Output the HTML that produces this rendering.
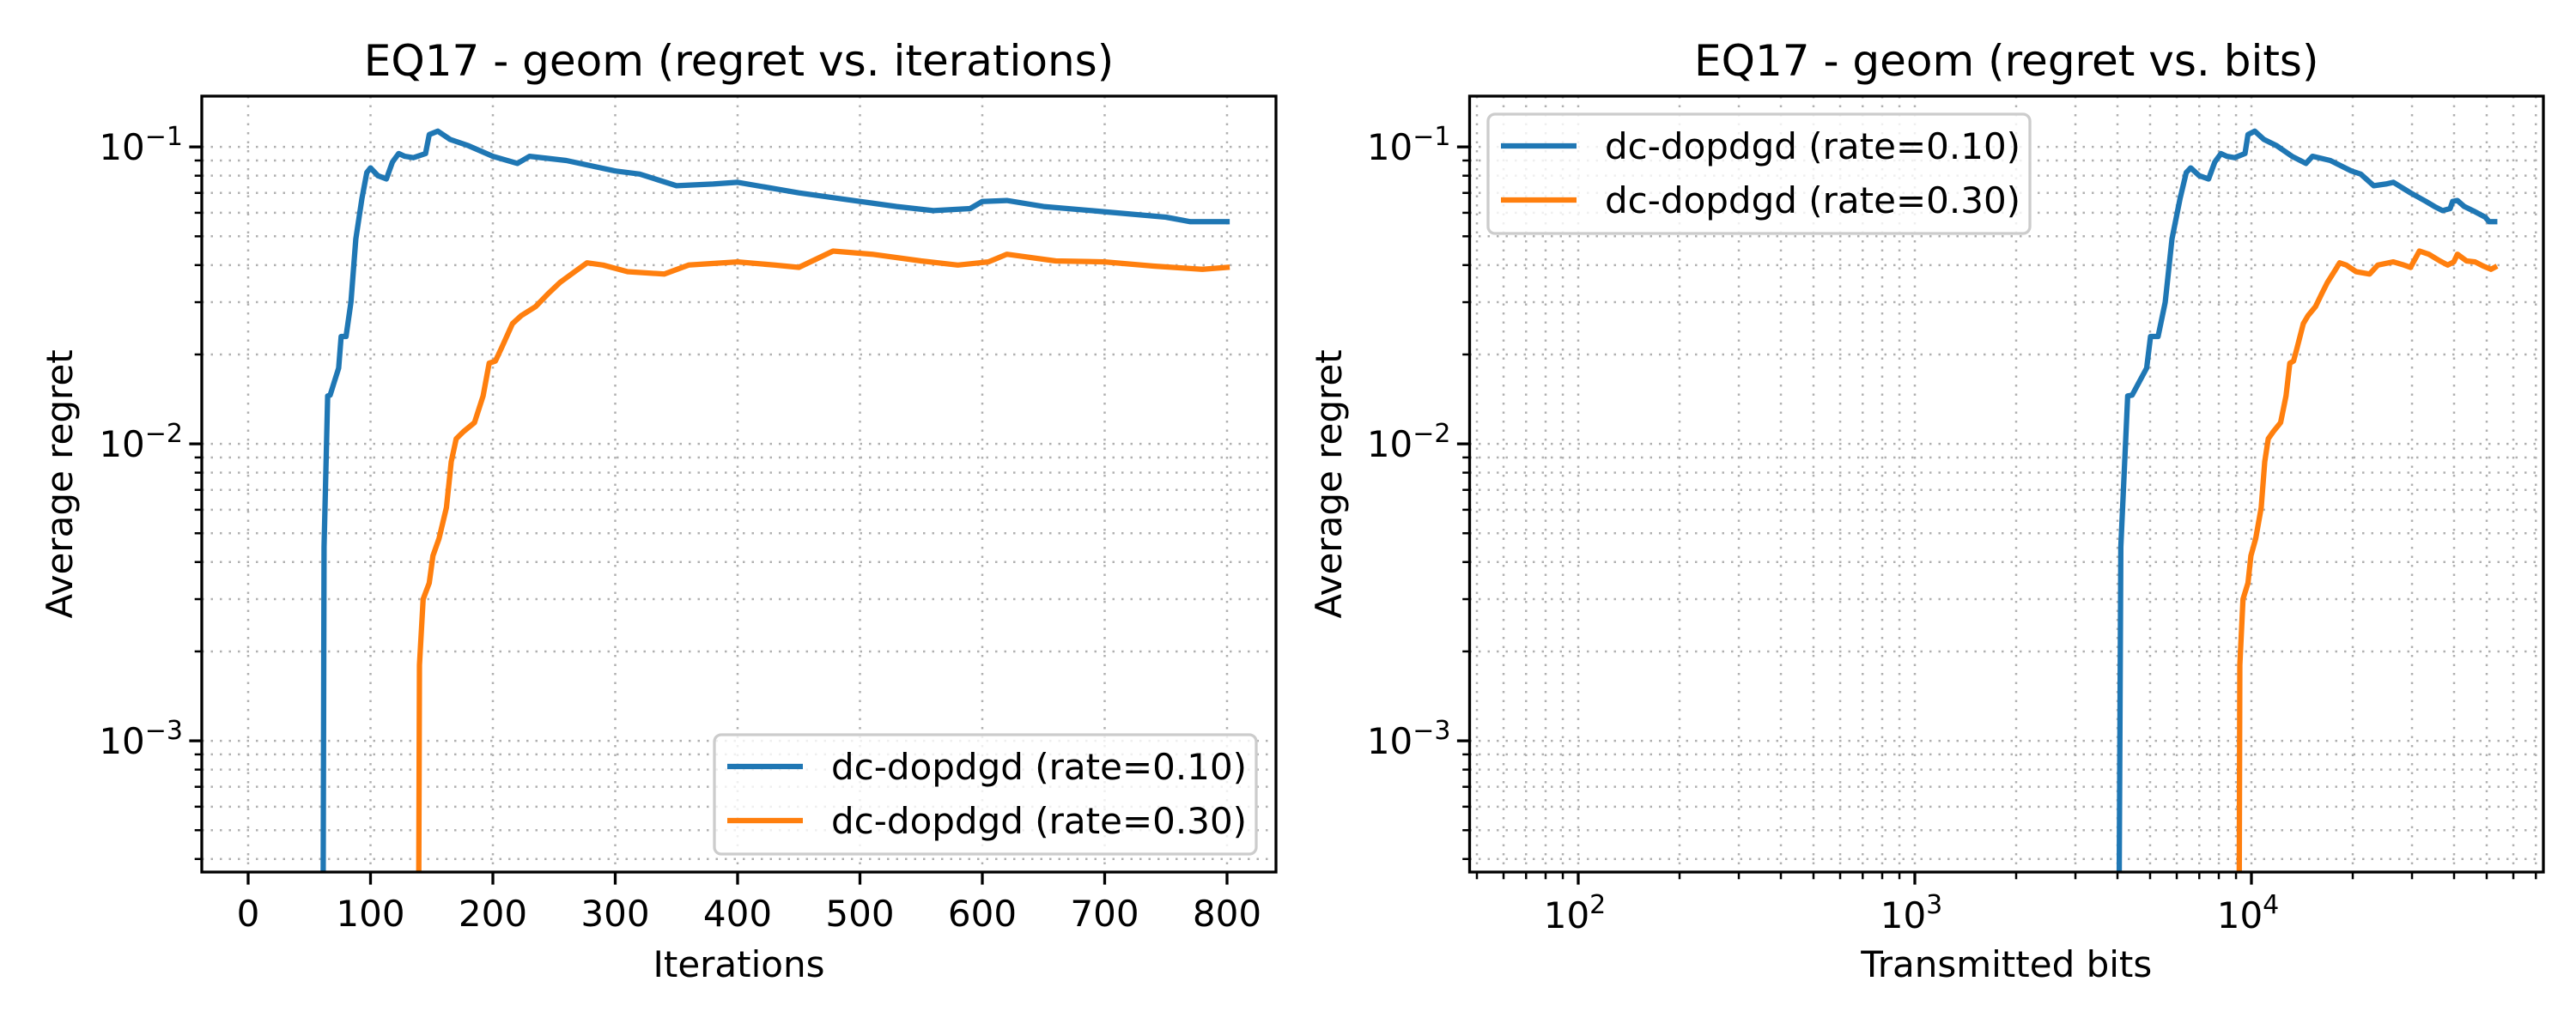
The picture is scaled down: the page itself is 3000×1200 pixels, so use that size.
<!DOCTYPE html>
<html><head><meta charset="utf-8"><style>
html,body{margin:0;padding:0;background:#fff;overflow:hidden;}
svg{display:block;font-family:"DejaVu Sans","Liberation Sans",sans-serif;}
</style></head><body>
<svg id="fig" width="3000" height="1200" viewBox="0 0 3000 1200" xmlns="http://www.w3.org/2000/svg"></svg>
<script>
// ---- data ----
const blueIter = [61,62,65,67,70,74,76,80,84,88,93,97,100,106,113,118,123,128,135,145,148,155,165,180,200,220,230,260,300,320,350,380,400,450,500,530,560,590,600,620,650,700,750,770,800];
const blueRegret = [0.0001,0.0045,0.0145,0.0146,0.016,0.018,0.023,0.023,0.03,0.049,0.067,0.082,0.085,0.08,0.078,0.089,0.095,0.093,0.092,0.095,0.11,0.113,0.106,0.101,0.093,0.088,0.093,0.090,0.083,0.081,0.074,0.075,0.076,0.070,0.0655,0.063,0.061,0.062,0.0655,0.066,0.063,0.0605,0.058,0.056,0.056];
const orangeIter = [139,140,143,148,151,156,162,166,170,176,185,192,197,202,207,216,223,235,245,255,268,277,290,310,340,360,400,430,450,478,510,550,580,605,620,660,700,740,780,800];
const orangeRegret = [0.0001,0.0018,0.003,0.0034,0.0042,0.0048,0.0061,0.0087,0.0104,0.011,0.0118,0.0145,0.0187,0.019,0.021,0.0254,0.027,0.029,0.032,0.035,0.0383,0.0407,0.040,0.038,0.0373,0.040,0.041,0.040,0.0393,0.0446,0.0435,0.0413,0.040,0.041,0.0435,0.0413,0.041,0.0397,0.0387,0.0393];
const bitsPerIter = 66;
const xTicksLin = [0,100,200,300,400,500,600,700,800];
const yTickExp = [-1,-2,-3];
const xTickExpLog = [2,3,4];
const seriesLabels = ["dc-dopdgd (rate=0.10)","dc-dopdgd (rate=0.30)"];
const colors = ["#1f77b4","#ff7f0e"];

const NS="http://www.w3.org/2000/svg";
const svg=document.getElementById('fig');
function el(tag,attrs,parent){const e=document.createElementNS(NS,tag);for(const k in attrs)e.setAttribute(k,attrs[k]);(parent||svg).appendChild(e);return e;}

const yTop=112,yBot=1016;
const yMinL=-3.442, yMaxL=-0.829;
function yScale(v){const l=Math.log10(v);return yBot-(l-yMinL)/(yMaxL-yMinL)*(yBot-yTop);}

function supLabel(g,x,y,exp,anchor){
  const t=el('text',{x:x,y:y,'font-size':42,'text-anchor':anchor,fill:'#000'},g);
  t.appendChild(document.createTextNode('10'));
  const ts=el('tspan',{dy:-17,'font-size':30},t);
  ts.textContent=(exp<0?'\u2212':'')+Math.abs(exp);
  return t;
}

function panel(opts){
  const g=el('g',{});
  
  
  const L=opts.left,R=opts.right;
  const clipId='clip'+opts.name;
  const cp=el('clipPath',{id:clipId},g);el('rect',{x:L,y:yTop,width:R-L,height:yBot-yTop},cp);
  const grid=el('g',{stroke:'#b0b0b0','stroke-width':2.5,'stroke-dasharray':'2.5,8','clip-path':'url(#'+clipId+')'},g);
  
  
  const ticks=el('g',{stroke:'#000','stroke-width':3.3},g);
  for(let e=-4;e<=-1;e++){for(let m=1;m<10;m++){const v=m*Math.pow(10,e);const y=yScale(v);if(y<yTop-1||y>yBot+1)continue;
    el('line',{x1:L,x2:R,y1:y,y2:y},grid);
    el('line',{x1:L,x2:L-(m===1?14.6:8.3),y1:y,y2:y,'stroke-width':m===1?3.3:2.5},ticks);}}
  yTickExp.forEach(e=>{const t=supLabel(g,L-22,yScale(Math.pow(10,e))+15,e,'end');
    });
  opts.xgrid(grid,ticks,g);
  const lines=el('g',{'clip-path':'url(#'+clipId+')',fill:'none','stroke-width':6.25,'stroke-linejoin':'round','stroke-linecap':'square'},g);
  opts.series.forEach((s,i)=>{
    const d=s.x.map((xv,j)=>(j?'L':'M')+opts.xs(xv).toFixed(1)+','+yScale(s.y[j]).toFixed(1)).join('');
    const p=el('path',{d:d,stroke:colors[i]},lines);
    
    
  });
  el('rect',{x:L,y:yTop,width:R-L,height:yBot-yTop,fill:'none',stroke:'#000','stroke-width':3.3},g);
  const title=el('text',{x:(L+R)/2,y:88,'font-size':50,'text-anchor':'middle'},g);title.textContent=opts.title;
  
  const xl=el('text',{x:(L+R)/2,y:1138,'font-size':42,'text-anchor':'middle'},g);xl.textContent=opts.xlabel;
  
  const yl=el('text',{x:0,y:0,'font-size':42,'text-anchor':'middle',transform:'translate('+(opts.ylx)+','+((yTop+yBot)/2)+') rotate(-90)'},g);yl.textContent='Average regret';
  
  const lg=el('g',{},g);
  const lx=opts.legX,ly=opts.legY;
  el('rect',{x:lx,y:ly,width:631,height:139,rx:8,fill:'#fff','fill-opacity':0.8,stroke:'#cccccc','stroke-width':3.3},lg);
  seriesLabels.forEach((lab,i)=>{const yy=ly+37+i*63;
    const ent=el('g',{},lg);
    el('line',{x1:lx+15,x2:lx+103,y1:yy,y2:yy,stroke:colors[i],'stroke-width':6.25},ent);
    const t=el('text',{x:lx+136,y:yy+15,'font-size':42},ent);t.textContent=lab;});
}

const L1=235,R1=1486;
const xs1=v=>289+(v/800)*(1429-289);
panel({name:'iterations-panel',left:L1,right:R1,title:'EQ17 - geom (regret vs. iterations)',xlabel:'Iterations',ylx:84,
  xs:xs1,legX:832,legY:856,
  series:[{x:blueIter,y:blueRegret},{x:orangeIter,y:orangeRegret}],
  xgrid:(grid,ticks,g)=>{xTicksLin.forEach(v=>{const x=xs1(v);el('line',{x1:x,x2:x,y1:yTop,y2:yBot},grid);
    el('line',{x1:x,x2:x,y1:yBot,y2:yBot+14.6},ticks);
    const t=el('text',{x:x,y:1079,'font-size':42,'text-anchor':'middle'},g);t.textContent=v;
    });}
});

const L2=1711.5,R2=2962;
const xs2=v=>1838+(Math.log10(v)-2)*392;
panel({name:'bits-panel',left:L2,right:R2,title:'EQ17 - geom (regret vs. bits)',xlabel:'Transmitted bits',ylx:1562,
  xs:xs2,legX:1733,legY:133,
  series:[{x:blueIter.map(v=>v*bitsPerIter),y:blueRegret},{x:orangeIter.map(v=>v*bitsPerIter),y:orangeRegret}],
  xgrid:(grid,ticks,g)=>{for(let e=1;e<=4;e++)for(let m=1;m<10;m++){const v=m*Math.pow(10,e);const x=xs2(v);if(x<L2||x>R2)continue;
      el('line',{x1:x,x2:x,y1:yTop,y2:yBot},grid);
      el('line',{x1:x,x2:x,y1:yBot,y2:yBot+(m===1?14.6:8.3),'stroke-width':m===1?3.3:2.5},ticks);}
    xTickExpLog.forEach(e=>{const t=supLabel(g,xs2(Math.pow(10,e))-4,1081,e,'middle');
      });}
});
</script>
</body></html>
